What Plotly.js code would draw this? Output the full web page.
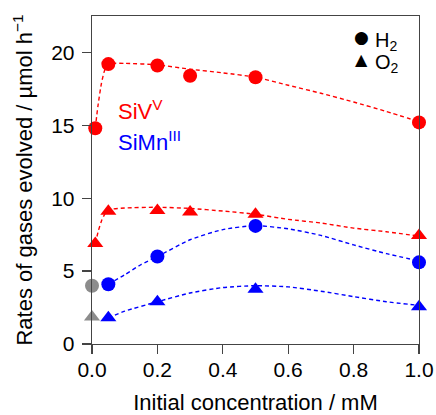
<!DOCTYPE html>
<html>
<head>
<meta charset="utf-8">
<script src="https://cdn.plot.ly/plotly-3.0.1.min.js"></script>
<style>html,body{margin:0;padding:0;background:#fff;}#chart{width:436px;height:415px;}</style>
</head>
<body>
<div id="chart"></div>
<script>
// Measured points
var sivX = [0.01, 0.05, 0.2, 0.3, 0.5, 1.0];
var sivH2 = [14.8, 19.2, 19.1, 18.4, 18.3, 15.2];
var sivO2 = [6.9, 9.1, 9.15, 9.05, 8.9, 7.45];

var simnX = [0.05, 0.2, 0.5, 1.0];
var simnH2 = [4.1, 6.0, 8.1, 5.6];
var simnO2 = [1.8, 2.9, 3.75, 2.55];

var blankX = [0, 0];
var blankY = [4.0, 1.85];

// Dashed fit curves
var sivH2FitX = [0.01, 0.018, 0.029, 0.039, 0.05, 0.1, 0.2, 0.3, 0.4, 0.5, 0.6, 0.7, 0.8, 0.9, 1.0];
var sivH2FitY = [14.8, 16.3, 17.9, 18.8, 19.2, 19.25, 19.15, 18.85, 18.6, 18.3, 17.75, 17.2, 16.6, 15.95, 15.25];

var sivO2FitX = [0.01, 0.02, 0.03, 0.04, 0.05, 0.1, 0.2, 0.3, 0.4, 0.5, 0.6, 0.7, 0.8, 0.9, 1.0];
var sivO2FitY = [6.9, 7.8, 8.5, 8.95, 9.2, 9.33, 9.38, 9.3, 9.12, 8.9, 8.55, 8.3, 7.95, 7.7, 7.4];

var simnH2FitX = [0.05, 0.1, 0.15, 0.2, 0.3, 0.4, 0.5, 0.6, 0.7, 0.8, 0.9, 1.0];
var simnH2FitY = [4.1, 4.75, 5.45, 6.0, 7.15, 7.85, 8.12, 7.9, 7.45, 6.8, 6.2, 5.7];

var simnO2FitX = [0.05, 0.1, 0.2, 0.3, 0.4, 0.5, 0.6, 0.7, 0.8, 0.9, 1.0];
var simnO2FitY = [1.8, 2.25, 2.9, 3.5, 3.87, 4.0, 3.92, 3.62, 3.25, 2.9, 2.65];

var xTicks = [0, 0.2, 0.4, 0.6, 0.8, 1.0];
var yTicks = [0, 5, 10, 15, 20];

var legendLabels = ['H<sub>2</sub>', 'O<sub>2</sub>'];
var legendSymbols = ['●', '▲'];

var RED = '#ff0000', BLUE = '#0000ff', GRAY = '#8c8c8c';
var FONT = 'Liberation Sans, Arial, sans-serif';

function fit(x, y, c) {
  return {x: x, y: y, mode: 'lines', type: 'scatter', showlegend: false, hoverinfo: 'skip',
    cliponaxis: false, line: {color: c, width: 1.4, dash: '4px,3px', shape: 'spline', smoothing: 0.6}};
}
function pts(x, y, c, sym) {
  return {x: x, y: y, mode: 'markers', type: 'scatter', showlegend: false, cliponaxis: false,
    marker: {color: c, size: 14, symbol: sym, line: {width: 0}}};
}

var data = [
  fit(sivH2FitX, sivH2FitY, RED),
  fit(sivO2FitX, sivO2FitY, RED),
  fit(simnH2FitX, simnH2FitY, BLUE),
  fit(simnO2FitX, simnO2FitY, BLUE),
  pts(sivX, sivH2, RED, 'circle'),
  pts(sivX, sivO2, RED, 'triangle-up'),
  pts(simnX, simnH2, BLUE, 'circle'),
  pts(simnX, simnO2, BLUE, 'triangle-up'),
  pts([blankX[0]], [blankY[0]], GRAY, 'circle'),
  pts([blankX[1]], [blankY[1]], GRAY, 'triangle-up')
];

var axisCommon = {
  showline: true, linecolor: '#444', linewidth: 1.3, mirror: true,
  ticks: 'outside', ticklen: 9, tickwidth: 1.3, tickcolor: '#444',
  showgrid: false, zeroline: false, tickfont: {family: FONT, size: 21, color: '#000'}
};

var annotations = [
  {x: 0.072, y: 16.05, xref: 'x', yref: 'y', xanchor: 'left', yanchor: 'middle', showarrow: false,
    text: 'SiV<sup>V</sup>', font: {family: FONT, size: 22, color: RED}},
  {x: 0.072, y: 13.95, xref: 'x', yref: 'y', xanchor: 'left', yanchor: 'middle', showarrow: false,
    text: 'SiMn<sup>III</sup>', font: {family: FONT, size: 22, color: BLUE}}
];
var legY = [0.935, 0.866];
var legSymSize = [17, 16];
for (var i = 0; i < 2; i++) {
  annotations.push({x: 0.825, y: legY[i], xref: 'paper', yref: 'paper', xanchor: 'center', yanchor: 'middle',
    showarrow: false, text: legendSymbols[i], font: {family: 'DejaVu Sans', size: legSymSize[i], color: '#000'}});
  annotations.push({x: 0.86, y: legY[i] - 0.012, xref: 'paper', yref: 'paper', xanchor: 'left', yanchor: 'middle',
    showarrow: false, text: legendLabels[i], font: {family: FONT, size: 20, color: '#000'}});
}

var layout = {
  width: 436, height: 415,
  margin: {l: 92, r: 17, t: 16, b: 71},
  paper_bgcolor: '#fff', plot_bgcolor: '#fff',
  font: {family: FONT, color: '#000'},
  showlegend: false,
  xaxis: Object.assign({}, axisCommon, {
    range: [0, 1], tickvals: xTicks, tickformat: '.1f', ticklabelstandoff: -3,
    title: {text: 'Initial concentration / mM', font: {family: FONT, size: 22}, standoff: 19}
  }),
  yaxis: Object.assign({}, axisCommon, {
    range: [0, 22.5], tickvals: yTicks, ticklabelstandoff: 3,
    title: {text: 'Rates of gases evolved / µmol h<sup>−1</sup>', font: {family: FONT, size: 22}, standoff: 12}
  }),
  annotations: annotations
};

Plotly.newPlot('chart', data, layout, {displayModeBar: false, staticPlot: true});
</script>
</body>
</html>
